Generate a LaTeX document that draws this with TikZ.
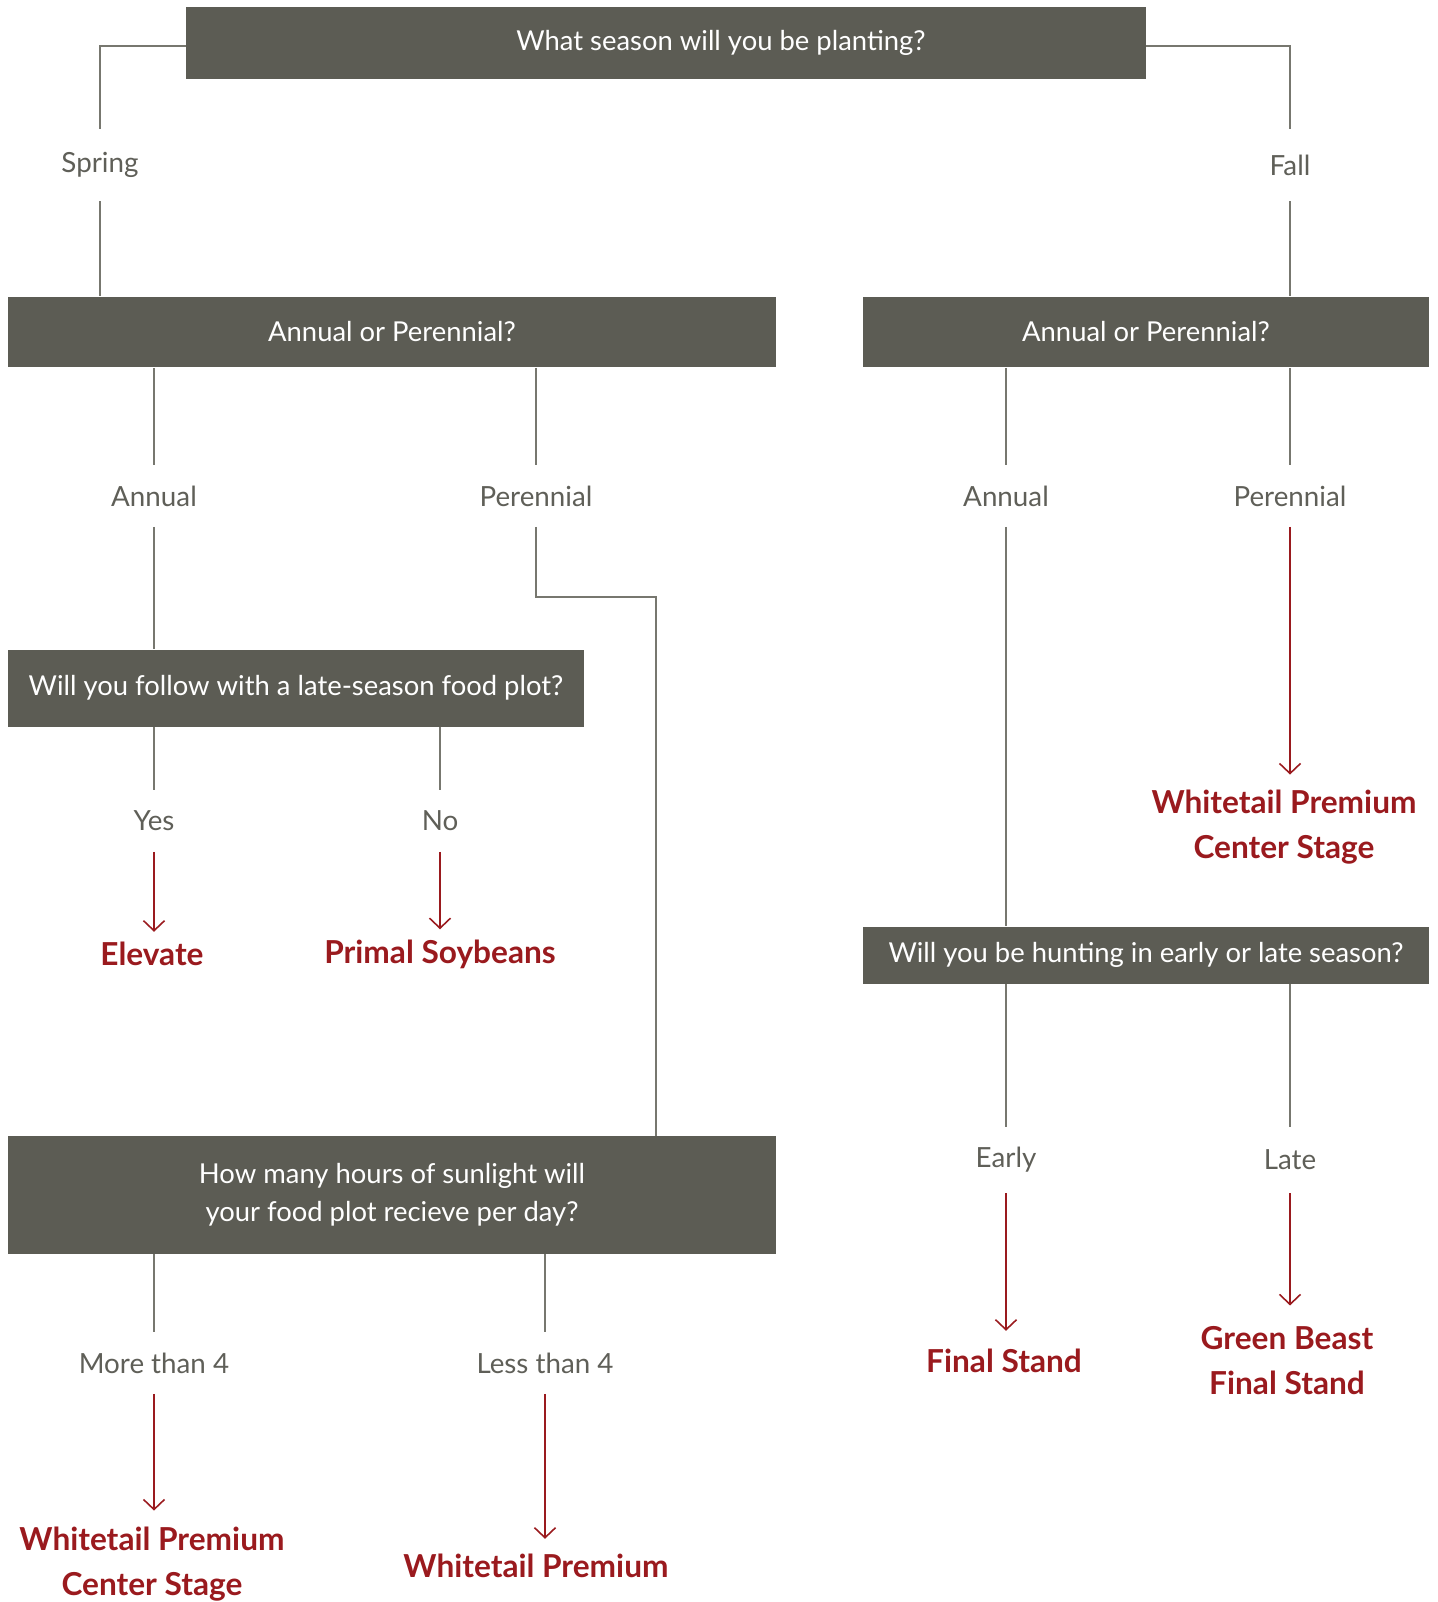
\documentclass[tikz,border=0pt]{standalone}
\usepackage{fontspec}
\setmainfont{Lato}
\usepackage{tikz}
\usetikzlibrary{arrows.meta}
\definecolor{boxgray}{HTML}{5C5C54}
\definecolor{txtgray}{HTML}{5F5F58}
\definecolor{linegray}{HTML}{77776F}
\definecolor{resred}{HTML}{9A1A1E}
\tikzset{
	qbox/.style={rectangle, fill=boxgray, text=white, inner sep=0, align=center, font=\fontsize{15.6}{21.6}\selectfont},
	choice/.style={inner sep=0, minimum height=1.22cm, text=txtgray, font=\fontsize{15.8}{19}\selectfont},
	result/.style={inner xsep=0, inner ysep=0.2cm, text=resred, align=center, font=\fontsize{18}{25.6}\selectfont\bfseries},
	wire/.style={draw=linegray, line width=0.8pt},
	pick/.style={draw=resred, line width=0.9pt, -{Straight Barb[length=0.2cm, width=0.42cm]}}
}
\begin{document}
\begin{tikzpicture}[x=0.02cm, y=-0.02cm]
	\useasboundingbox (0, 0) rectangle (1437, 1602);
	% Question boxes:
	\node[qbox, minimum width=19.2cm, minimum height=1.44cm] (season) at (666, 43) {\hspace*{2.2cm}What season will you be planting?};
	\node[qbox, minimum width=15.36cm, minimum height=1.42cm] (springtype) at (392, 332) {Annual or Perennial?};
	\node[qbox, minimum width=11.32cm, minimum height=1.42cm] (falltype) at (1146, 332) {Annual or Perennial?};
	\node[qbox, minimum width=11.52cm, minimum height=1.54cm] (follow) at (296, 688) {Will you follow with a late-season food plot?};
	\node[qbox, minimum width=15.36cm, minimum height=2.36cm] (sunlight) at (392, 1195) {How many hours of sunlight will\\your food plot recieve per day?};
	\node[qbox, minimum width=11.32cm, minimum height=1.14cm] (hunting) at (1146, 955) {Will you be hunting in early or late season?};
	% Choices:
	\node[choice, minimum height=1.44cm] (spring) at (100, 165) {Spring};
	\node[choice, minimum height=1.44cm] (fall) at (1290, 165) {Fall};
	\node[choice] (sannual) at (154, 496) {Annual};
	\node[choice] (sperennial) at (536, 496) {Perennial};
	\node[choice] (fannual) at (1006, 496) {Annual};
	\node[choice] (fperennial) at (1290, 496) {Perennial};
	\node[choice] (yes) at (154, 821) {Yes};
	\node[choice] (no) at (440, 821) {No};
	\node[choice] (morefour) at (154, 1363) {More than 4};
	\node[choice] (lessfour) at (545, 1363) {Less than 4};
	\node[choice, minimum height=1.32cm] (early) at (1006, 1160) {Early};
	\node[choice, minimum height=1.32cm] (late) at (1290, 1160) {Late};
	% Results:
	\node[result] (elevate) at (152, 954) {Elevate};
	\node[result] (primal) at (440, 954) {Primal Soybeans};
	\node[result, inner ysep=0.3cm] (fallperen) at (1284, 827) {Whitetail Premium\\Center Stage};
	\node[result, inner ysep=0.36cm] (finalstand) at (1004, 1361) {Final Stand};
	\node[result, inner ysep=0.42cm] (greenbeast) at (1287, 1361) {Green Beast\\Final Stand};
	\node[result, inner ysep=0.32cm] (moresun) at (152, 1564) {Whitetail Premium\\Center Stage};
	\node[result, inner ysep=0.3cm] (lesssun) at (536, 1566) {Whitetail Premium};
	% Wires:
	\draw[wire] (season.west |- 0, 46) -| (spring.north);
	\draw[wire] (season.east |- 0, 46) -| (fall.north);
	\draw[wire] (spring.south) -- (spring.south |- springtype.north);
	\draw[wire] (fall.south) -- (fall.south |- falltype.north);
	\draw[wire] (sannual.north |- springtype.south) -- (sannual.north);
	\draw[wire] (sperennial.north |- springtype.south) -- (sperennial.north);
	\draw[wire] (fannual.north |- falltype.south) -- (fannual.north);
	\draw[wire] (fperennial.north |- falltype.south) -- (fperennial.north);
	\draw[wire] (sannual.south) -- (sannual.south |- follow.north);
	\coordinate (bend) at (656, 597);
	\draw[wire] (sperennial.south) |- (bend) -- (bend |- sunlight.north);
	\draw[wire] (fannual.south) -- (fannual.south |- hunting.north);
	\draw[wire] (yes.north |- follow.south) -- (yes.north);
	\draw[wire] (no.north |- follow.south) -- (no.north);
	\draw[wire] (morefour.north |- sunlight.south) -- (morefour.north);
	\draw[wire] (lessfour.north |- sunlight.south) -- (lessfour.north);
	\draw[wire] (early.north |- hunting.south) -- (early.north);
	\draw[wire] (late.north |- hunting.south) -- (late.north);
	% Picks:
	\draw[pick] (yes.south) -- (yes.south |- elevate.north);
	\draw[pick] (no.south) -- (no.south |- primal.north);
	\draw[pick] (fperennial.south) -- (fperennial.south |- fallperen.north);
	\draw[pick] (early.south) -- (early.south |- finalstand.north);
	\draw[pick] (late.south) -- (late.south |- greenbeast.north);
	\draw[pick] (morefour.south) -- (morefour.south |- moresun.north);
	\draw[pick] (lessfour.south) -- (lessfour.south |- lesssun.north);
\end{tikzpicture}
\end{document}
